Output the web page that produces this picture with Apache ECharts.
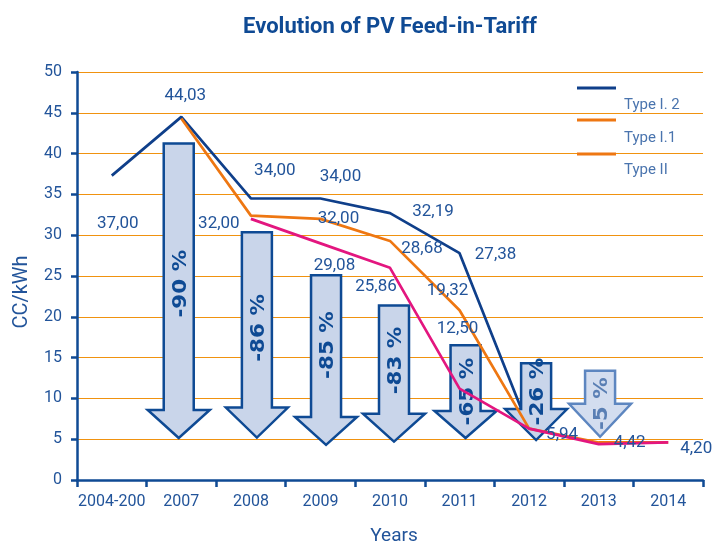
<!DOCTYPE html>
<html>
<head>
<meta charset="utf-8">
<script src="https://cdn.jsdelivr.net/npm/echarts@6/dist/echarts.min.js"></script>
<style>html,body{margin:0;padding:0;background:#fff}#c{width:713px;height:545px}</style>
</head>
<body>
<div id="c"></div>
<script>
// ---- data ----
const categories = ['2004-200', '2007', '2008', '2009', '2010', '2011', '2012', '2013', '2014'];
const typeI2 = [37.3, 44.5, 34.5, 34.5, 32.7, 27.8, 6.3, null, null];
const typeI1 = [null, 44.3, 32.4, 32.0, 29.3, 20.8, 6.3, 4.6, 4.6];
const typeII = [null, null, 32.0, 29.0, 26.0, 11.2, 6.3, 4.4, 4.6];
const labelsI2 = ['37,00', '44,03', '34,00', '34,00', '32,19', '27,38', '', '', ''];
const labelsI1 = ['', '', '32,00', '32,00', '28,68', '19,32', '', '', ''];
const labelsII = ['', '', '', '29,08', '25,86', '12,50', '5,94', '4,42', '4,20'];
const arrowCats = ['2007', '2008', '2009', '2010', '2011', '2012', '2013'];
const arrowTop = [41.25, 30.35, 25.1, 21.4, 16.5, 14.3, 13.4];
const arrowTip = [5.15, 5.2, 4.3, 4.7, 5.15, 4.9, 5.3];
const arrowText = ['-90 %', '-86 %', '-85 %', '-83 %', '-65 %', '-26 %', '-5 %'];
const yTicks = { min: 0, max: 50, interval: 5 };

// ---- layout / style (not data) ----
const offI2 = [[6, 48], [4, -21], [24, -28], [20, -22], [43, -1], [36, 2], [0, 0], [0, 0], [0, 0]];
const offI1 = [[0, 0], [0, 0], [-32, 8], [18, 0], [32, 8], [-12, -20], [0, 0], [0, 0], [0, 0]];
const offII = [[0, 0], [0, 0], [0, 0], [14, 22], [-14, 19], [-2, -60], [33, 6], [31, -1], [28, 6]];
const arrowDx = [-2.6, 6, 5.6, 4, 6, 7, 1.4];
const arrowHead = [28, 30, 28, 28, 27, 31, 33];
const arrowTextDy = [-7, -7, -15, -13, 0, -10, 0];
const DARK = '#0f4a94', TXT = '#22549a', GRID = '#f0920f';
const C_I2 = '#0f3f8a', C_I1 = '#ee7712', C_II = '#e3167f';

function lineData(vals, labels, offs) {
  return vals.map((v, i) => ({
    value: v,
    label: labels[i] ? { show: true, formatter: labels[i], position: 'inside', offset: offs[i] } : { show: false }
  }));
}
function lineSeries(name, vals, labels, offs, color, z) {
  return {
    type: 'line', name: name, z: z,
    data: lineData(vals, labels, offs),
    symbol: 'circle', symbolSize: 1, showSymbol: true,
    itemStyle: { color: 'rgba(0,0,0,0)' },
    lineStyle: { color: color, width: 2.7 },
    label: { color: TXT, fontSize: 17, fontFamily: 'Roboto' },
    emphasis: { disabled: true },
    connectNulls: false
  };
}

const arrowData = arrowCats.map((c, i) => [categories.indexOf(c), arrowTop[i], arrowTip[i]]);

function renderArrow(params, api) {
  const i = params.dataIndex;
  const ci = api.value(0);
  const pTop = api.coord([ci, api.value(1)]);
  const pTip = api.coord([ci, api.value(2)]);
  const cx = pTop[0] + arrowDx[i];
  const sw = 15, hw = 31;
  const yt = pTop[1], yp = pTip[1], yh = yp - arrowHead[i];
  const light = i === arrowCats.length - 1;
  const stroke = light ? '#5d86c0' : '#0e4a94';
  const fill = light ? '#d3ddef' : '#c9d5ea';
  const tcol = light ? '#5a7fb4' : '#0e4a94';
  return {
    type: 'group',
    children: [
      {
        type: 'polygon',
        shape: { points: [[cx - sw, yt], [cx + sw, yt], [cx + sw, yh], [cx + hw, yh], [cx, yp], [cx - hw, yh], [cx - sw, yh]] },
        style: { fill: fill, stroke: stroke, lineWidth: 2.5, lineJoin: 'miter' }
      },
      {
        type: 'text',
        x: cx + 2, y: (yt + yp) / 2 + arrowTextDy[i],
        rotation: Math.PI / 2, scaleX: 1.1,
        style: { text: arrowText[i], fill: tcol, font: 'bold 19.5px "DejaVu Sans"', align: 'center', verticalAlign: 'middle' }
      }
    ]
  };
}

const chart = echarts.init(document.getElementById('c'), null, { renderer: 'canvas' });
chart.setOption({
  animation: false,
  backgroundColor: '#fff',
  grid: { left: 77, right: 10, top: 72, bottom: 65 },
  xAxis: {
    type: 'category', data: categories, boundaryGap: true,
    axisLine: { lineStyle: { color: DARK, width: 2.5 } },
    axisTick: { show: true, length: 7, interval: 0, lineStyle: { color: DARK, width: 2.5 } },
    axisLabel: { interval: 0, color: TXT, fontSize: 16, fontFamily: 'Roboto', margin: 14 },
    splitLine: { show: false }
  },
  yAxis: {
    type: 'value', min: yTicks.min, max: yTicks.max, interval: yTicks.interval,
    axisLine: { show: true, lineStyle: { color: DARK, width: 2.5 } },
    axisTick: { show: true, length: 6, lineStyle: { color: DARK, width: 2.5 } },
    axisLabel: { color: TXT, fontSize: 16, fontFamily: 'Roboto', margin: 15 },
    splitLine: { show: true, lineStyle: { color: GRID, width: 1.2 } }
  },
  series: [
    lineSeries('Type I. 2', typeI2, labelsI2, offI2, C_I2, 2),
    {
      type: 'custom', name: 'arrows', z: 3,
      renderItem: renderArrow,
      data: arrowData,
      encode: { x: 0, y: [1, 2] },
      silent: true
    },
    lineSeries('Type I.1', typeI1, labelsI1, offI1, C_I1, 4),
    lineSeries('Type II', typeII, labelsII, offII, C_II, 5)
  ],
  graphic: [
    { type: 'text', x: 390, y: 27, style: { text: 'Evolution of PV Feed-in-Tariff', fill: DARK, font: 'bold 22px Roboto', align: 'center', verticalAlign: 'middle' } },
    { type: 'text', x: 22, y: 292, rotation: Math.PI / 2, style: { text: 'CC/kWh', fill: TXT, font: '20px Roboto', align: 'center', verticalAlign: 'middle' } },
    { type: 'text', x: 394, y: 536, style: { text: 'Years', fill: TXT, font: '19px Roboto', align: 'center', verticalAlign: 'middle' } },
    { type: 'line', shape: { x1: 577, y1: 88, x2: 616, y2: 88 }, style: { stroke: C_I2, lineWidth: 3 }, z: 10 },
    { type: 'line', shape: { x1: 577, y1: 120, x2: 616, y2: 120 }, style: { stroke: C_I1, lineWidth: 3 }, z: 10 },
    { type: 'line', shape: { x1: 577, y1: 154, x2: 616, y2: 154 }, style: { stroke: C_I1, lineWidth: 3 }, z: 10 },
    { type: 'text', x: 624, y: 105, style: { text: 'Type I. 2', fill: '#4a74ae', font: '15px Roboto', align: 'left', verticalAlign: 'middle' }, z: 10 },
    { type: 'text', x: 624, y: 138, style: { text: 'Type I.1', fill: '#4a74ae', font: '15px Roboto', align: 'left', verticalAlign: 'middle' }, z: 10 },
    { type: 'text', x: 624, y: 170, style: { text: 'Type II', fill: '#4a74ae', font: '15px Roboto', align: 'left', verticalAlign: 'middle' }, z: 10 }
  ]
});
</script>
</body>
</html>
